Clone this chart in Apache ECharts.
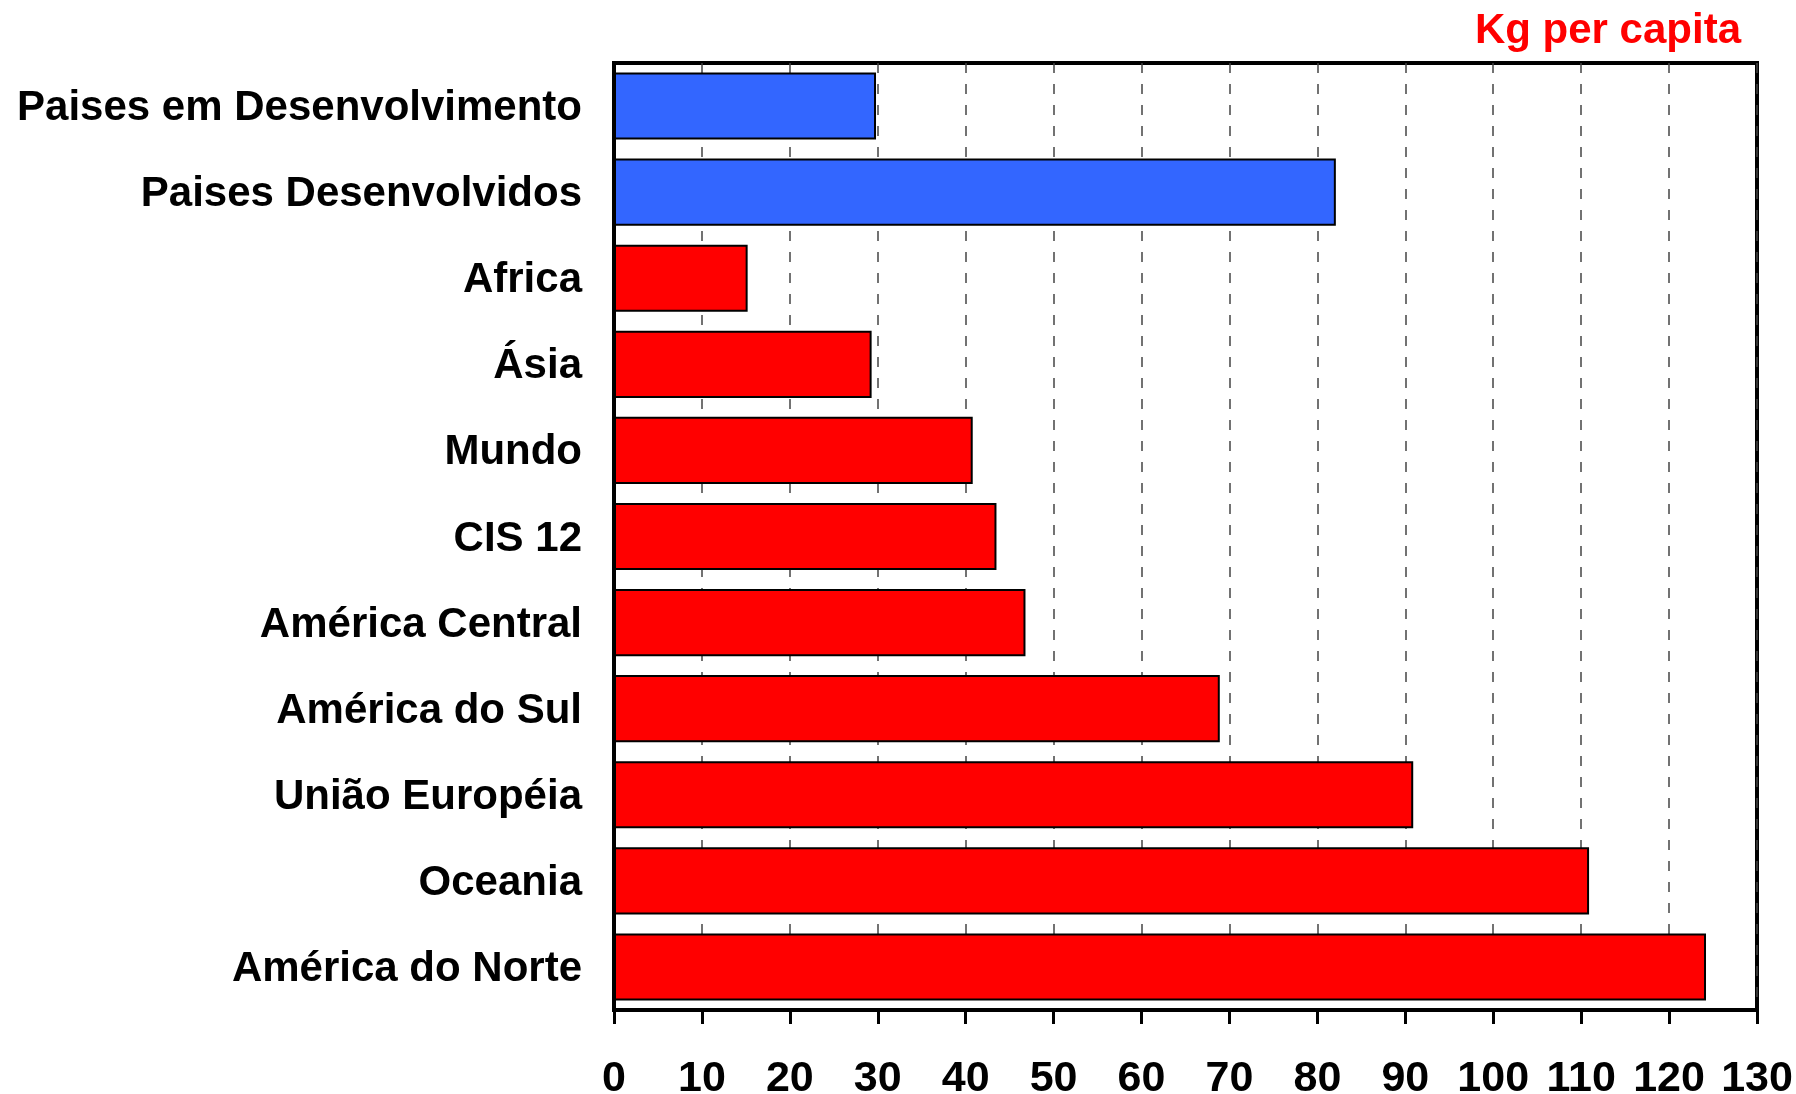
<!DOCTYPE html>
<html>
<head>
<meta charset="utf-8">
<script src="https://cdn.jsdelivr.net/npm/echarts@6/dist/echarts.min.js"></script>
<style>
  html, body { margin: 0; padding: 0; background: #fff; }
  #chart { width: 1796px; height: 1094px; }
</style>
</head>
<body>
<div id="chart"></div>
<script>
// regions, top to bottom as in the picture
const categories = [
  "Paises em Desenvolvimento",
  "Paises Desenvolvidos",
  "Africa",
  "Ásia",
  "Mundo",
  "CIS 12",
  "América Central",
  "América do Sul",
  "União Européia",
  "Oceania",
  "América do Norte"
]
// kg per capita
const values = [29.8, 82.1, 15.2, 29.3, 40.8, 43.5, 46.8, 68.9, 90.9, 110.9, 124.2]
// first two rows are the country groups (blue), the rest regions (red)
const groupColors = ["#3366FF", "#3366FF", "#FF0000", "#FF0000", "#FF0000", "#FF0000",
  "#FF0000", "#FF0000", "#FF0000", "#FF0000", "#FF0000"]

const font = "'Liberation Sans', Arial, sans-serif"

const chart = echarts.init(document.getElementById("chart"))
chart.setOption({
  animation: false,
  backgroundColor: "#fff",
  title: {
    text: "Kg per capita",
    right: 50,
    top: 5,
    textStyle: {
      color: "#FF0000",
      fontFamily: font,
      fontWeight: "bold",
      fontSize: 42,
    },
  },
  grid: {
    left: 614,
    right: 39,
    top: 63,
    bottom: 84,
    outerBoundsMode: "none",
    show: true,
    borderColor: "#000",
    borderWidth: 4,
  },
  xAxis: {
    type: "value",
    min: 0,
    max: 130,
    interval: 10,
    axisLine: { show: true, lineStyle: { color: "#000", width: 4 } },
    axisTick: { show: true, length: 14, lineStyle: { color: "#000", width: 3 } },
    splitLine: {
      show: true,
      lineStyle: { color: "#444", width: 1.5, type: [10, 11] },
    },
    axisLabel: {
      color: "#000",
      fontFamily: font,
      fontWeight: "bold",
      fontSize: 43,
      margin: 48,
    },
  },
  yAxis: {
    type: "category",
    inverse: true,
    data: categories,
    axisLine: { show: true, lineStyle: { color: "#000", width: 4 } },
    axisTick: { show: false },
    axisLabel: {
      color: "#000",
      fontFamily: font,
      fontWeight: "bold",
      fontSize: 42,
      margin: 32,
      verticalAlign: "top",
      lineHeight: 5,
    },
  },
  series: [
    {
      type: "bar",
      barCategoryGap: "22%",
      data: values.map((v, i) => ({
        value: v,
        itemStyle: { color: groupColors[i] },
      })),
      itemStyle: { borderColor: "#000", borderWidth: 2 },
    },
  ],
})
</script>
</body>
</html>
